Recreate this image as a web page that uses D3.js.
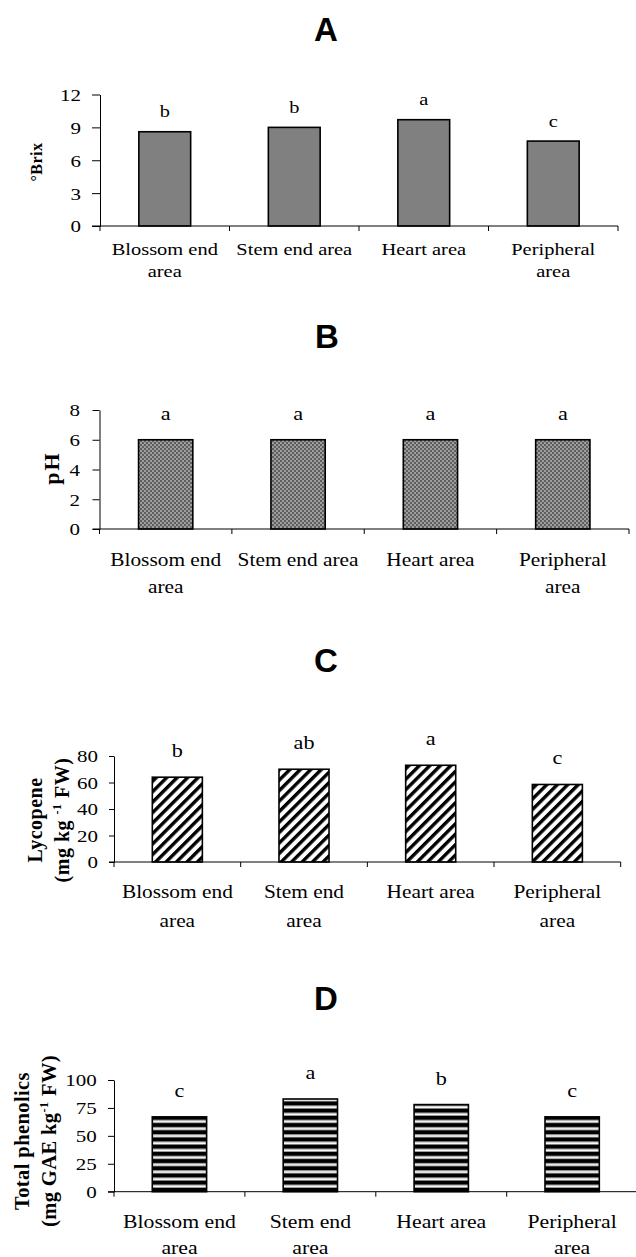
<!DOCTYPE html>
<html>
<head>
<meta charset="utf-8">
<script src="https://cdn.jsdelivr.net/npm/d3@7"></script>
<style>
  body { margin: 0; background: #fff; }
  svg { display: block; }
</style>
</head>
<body>
<div id="chart"></div>
<script>

// data
var areas = ["Blossom end area", "Stem end area", "Heart area", "Peripheral area"];
var labelsAB = [["Blossom end", "area"], ["Stem end area"], ["Heart area"], ["Peripheral", "area"]];
var labelsCD = [["Blossom end", "area"], ["Stem end", "area"], ["Heart area"], ["Peripheral", "area"]];

var brix = [8.6, 9.0, 9.7, 7.75];
var brixLetters = ["b", "b", "a", "c"];
var brixTicks = [0, 3, 6, 9, 12];

var ph = [6.0, 6.0, 6.0, 6.0];
var phLetters = ["a", "a", "a", "a"];
var phTicks = [0, 2, 4, 6, 8];

var lycopene = [64, 70, 73, 58.5];
var lycopeneLetters = ["b", "ab", "a", "c"];
var lycopeneTicks = [0, 20, 40, 60, 80];

var phenolics = [67, 83, 78, 67];
var phenolicsLetters = ["c", "a", "b", "c"];
var phenolicsTicks = [0, 25, 50, 75, 100];


var W = 636, H = 1257;
var serif = "'Liberation Serif', 'Times New Roman', serif";
var sans = "'Liberation Sans', Arial, sans-serif";

var svg = d3.select("#chart")
    .append("svg")
    .attr("width", W)
    .attr("height", H)

svg.append("rect").attr("width", W).attr("height", H).attr("fill", "#fff")

// fill patterns
var defs = svg.append("defs")

var checker = defs.append("pattern")
    .attr("id", "checker")
    .attr("patternUnits", "userSpaceOnUse")
    .attr("width", 4).attr("height", 4)
checker.append("rect").attr("width", 4).attr("height", 4).attr("fill", "#9e9e9e")
checker.append("rect").attr("width", 2).attr("height", 2).attr("fill", "#5e5e5e")
checker.append("rect").attr("x", 2).attr("y", 2).attr("width", 2).attr("height", 2).attr("fill", "#5e5e5e")

var diag = defs.append("pattern")
    .attr("id", "diag")
    .attr("patternUnits", "userSpaceOnUse")
    .attr("width", 7.4).attr("height", 10)
    .attr("patternTransform", "rotate(45)")
diag.append("rect").attr("width", 7.4).attr("height", 10).attr("fill", "#fff")
diag.append("rect").attr("width", 3.4).attr("height", 10).attr("fill", "#000")

var hstripe = defs.append("pattern")
    .attr("id", "hstripe")
    .attr("patternUnits", "userSpaceOnUse")
    .attr("width", 10).attr("height", 7.2)
hstripe.append("rect").attr("width", 10).attr("height", 7.2).attr("fill", "#fff")
hstripe.append("rect").attr("width", 10).attr("height", 4).attr("fill", "#000")
hstripe.append("rect").attr("y", 4).attr("width", 10).attr("height", 0.8).attr("fill", "#888")
hstripe.append("rect").attr("y", 6.4).attr("width", 10).attr("height", 0.8).attr("fill", "#888")


// layout of each panel (pixel positions measured on the figure)
var panels = [
  { title: "A", tx: 326, ty: 41, values: brix, letters: brixLetters, ticks: brixTicks, labels: labelsAB,
    x0: 100, x1: 618, yTop: 94.5, yBase: 226, tickLen: 8, tickRight: 81, frac: 0.40,
    letterOff: 14.5, labelY: [255, 277], labelFont: 16.5, labelSx: 1.24, letterFont: 17,
    fill: "#808080", yLabel: [{ parts: [["°Brix"]], x: 36.5 }], yLabelY: 162, yLabelFont: 16, yLabelLs: 0.5 },
  { title: "B", tx: 327, ty: 348, values: ph, letters: phLetters, ticks: phTicks, labels: labelsAB,
    x0: 99.5, x1: 629, yTop: 410, yBase: 529, tickLen: 7, tickRight: 80, frac: 0.41,
    letterOff: 20, labelY: [566, 593], labelFont: 18.5, labelSx: 1.155, letterFont: 18.5,
    fill: "url(#checker)", yLabel: [{ parts: [["pH"]], x: 51 }], yLabelY: 468, yLabelFont: 22, yLabelLs: 2 },
  { title: "C", tx: 326, ty: 672, values: lycopene, letters: lycopeneLetters, ticks: lycopeneTicks, labels: labelsCD,
    x0: 114, x1: 620.7, yTop: 756, yBase: 862, tickLen: 5, tickRight: 98, frac: 0.395,
    letterOff: 20, labelY: [898, 927], labelFont: 18.5, labelSx: 1.155, letterFont: 18.5,
    fill: "url(#diag)",
    yLabel: [{ parts: [["Lycopene"]], x: 34.5 },
             { parts: [["(mg kg "], ["-1", "sup"], [" FW)"]], x: 61.5 }],
    yLabelY: 820, yLabelFont: 20, yLabelLs: 0.5 },
  { title: "D", tx: 326, ty: 1010, values: phenolics, letters: phenolicsLetters, ticks: phenolicsTicks, labels: labelsCD,
    x0: 114, x1: 637.6, yTop: 1080, yBase: 1191.7, tickLen: 6, tickRight: 96.7, frac: 0.415,
    letterOff: 19.5, labelY: [1228, 1254], labelFont: 18.5, labelSx: 1.175, letterFont: 18.5,
    fill: "url(#hstripe)",
    yLabel: [{ parts: [["Total phenolics"]], x: 21.5 },
             { parts: [["(mg GAE kg"], ["-1", "sup"], [" FW)"]], x: 49 }],
    yLabelY: 1141, yLabelFont: 20.5, yLabelLs: 0.4 }
];

var tickFont = 17.5, tickSx = 1.2, letterSx = 1.2;

// horizontal text drawn a bit wide, like the original figure
function wideText(sel, str, x, y, size, sx) {
    return sel.append("text")
        .text(str)
        .attr("transform", "translate(" + x + "," + y + ") scale(" + sx + ",1)")
        .attr("text-anchor", "middle")
        .attr("font-family", serif)
        .attr("font-size", size)
}

panels.forEach(function (p) {

    var g = svg.append("g")

    var x = d3.scaleBand().domain(areas).range([p.x0, p.x1]).padding(0)
    var y = d3.scaleLinear()
        .domain([0, d3.max(p.ticks)])
        .range([p.yBase, p.yTop])

    // title
    g.append("text")
        .text(p.title)
        .attr("x", p.tx)
        .attr("y", p.ty)
        .attr("text-anchor", "middle")
        .attr("font-family", sans)
        .attr("font-weight", "bold")
        .attr("font-size", 33)

    // bars
    var bw = x.bandwidth()
    g.append("g")
        .selectAll("rect")
        .data(p.values)
        .enter()
        .append("rect")
        .attr("x", function (d, i) { return x(areas[i]) + bw * (1 - p.frac) / 2; })
        .attr("y", function (d) { return y(d); })
        .attr("width", bw * p.frac)
        .attr("height", function (d) { return p.yBase - y(d); })
        .attr("fill", p.fill)
        .attr("stroke", "#000")
        .attr("stroke-width", 1.6)

    // significance letters
    p.values.forEach(function (d, i) {
        wideText(g, p.letters[i], x(areas[i]) + bw / 2, y(d) - p.letterOff, p.letterFont, letterSx)
    })

    // y axis
    var yAxis = g.append("g")
        .attr("transform", "translate(" + p.x0 + ",0)")
        .call(d3.axisLeft(y).tickValues(p.ticks).tickSize(p.tickLen).tickSizeOuter(0))
    yAxis.select(".domain").attr("stroke", "#000")
    yAxis.selectAll(".tick line").attr("stroke", "#000")
    yAxis.selectAll(".tick text")
        .attr("x", 0)
        .attr("dy", "0.34em")
        .attr("transform", "translate(" + (p.tickRight - p.x0) + ",0) scale(" + tickSx + ",1)")
        .attr("font-family", serif)
        .attr("font-size", tickFont)
        .attr("fill", "#000")

    // x axis line and ticks between categories
    g.append("line")
        .attr("x1", p.x0 - p.tickLen).attr("x2", p.x1)
        .attr("y1", p.yBase).attr("y2", p.yBase)
        .attr("stroke", "#000")
    var bounds = areas.map(function (a) { return x(a); }).concat([x.range()[1]])
    g.append("g")
        .selectAll("line")
        .data(bounds)
        .enter()
        .append("line")
        .attr("x1", function (d) { return d; })
        .attr("x2", function (d) { return d; })
        .attr("y1", p.yBase)
        .attr("y2", p.yBase + 5)
        .attr("stroke", "#000")

    // category labels
    p.labels.forEach(function (lines, i) {
        lines.forEach(function (line, j) {
            wideText(g, line, x(areas[i]) + bw / 2, p.labelY[j], p.labelFont, p.labelSx)
        })
    })

    // rotated y label
    p.yLabel.forEach(function (l) {
        var t = g.append("text")
            .attr("transform", "translate(" + l.x + "," + p.yLabelY + ") rotate(-90)")
            .attr("text-anchor", "middle")
            .attr("dy", "0.35em")
            .attr("font-family", serif)
            .attr("font-weight", "bold")
            .attr("font-size", p.yLabelFont)
            .attr("letter-spacing", p.yLabelLs)
        var shift = 0
        l.parts.forEach(function (part) {
            var ts = t.append("tspan").text(part[0])
            if (part[1] === "sup") {
                ts.attr("font-size", p.yLabelFont * 0.6).attr("dy", -8)
                shift = 8
            } else if (shift) {
                ts.attr("dy", shift)
                shift = 0
            }
        })
    })
})

</script>
</body>
</html>
